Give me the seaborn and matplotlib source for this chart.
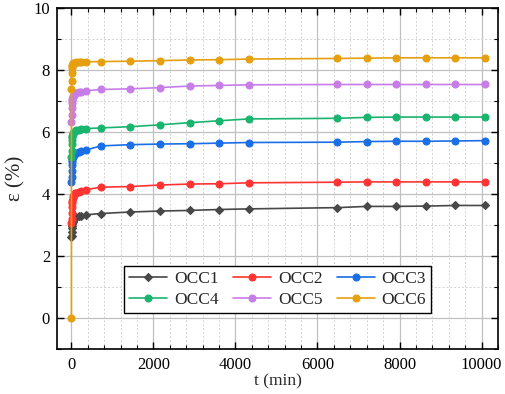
import numpy as np
import pandas as pd
import matplotlib
matplotlib.use("Agg")
import matplotlib.pyplot as plt
import seaborn as sns
from matplotlib.ticker import MultipleLocator

# ---- data ----
early_t = [1, 2, 5, 10, 15, 20, 30, 45, 60, 90, 120, 180, 240, 360]
late_t = [720, 1440, 2160, 2880, 3600, 4320, 6480, 7200, 7920, 8640, 9360, 10080]
t_common = early_t + late_t

occ1 = [2.60, 2.66, 2.78, 2.90, 2.98, 3.04, 3.10, 3.16, 3.20, 3.24, 3.26, 3.28, 3.30, 3.33,
        3.37, 3.42, 3.45, 3.47, 3.50, 3.52, 3.56, 3.60, 3.60, 3.61, 3.63, 3.63]
occ2 = [3.05, 3.20, 3.40, 3.58, 3.70, 3.78, 3.86, 3.93, 3.98, 4.02, 4.04, 4.07, 4.10, 4.14,
        4.22, 4.24, 4.29, 4.32, 4.33, 4.36, 4.38, 4.39, 4.39, 4.39, 4.39, 4.39]
occ3 = [4.40, 4.55, 4.75, 4.92, 5.03, 5.10, 5.18, 5.23, 5.26, 5.29, 5.31, 5.34, 5.37, 5.42,
        5.55, 5.59, 5.61, 5.62, 5.64, 5.66, 5.67, 5.69, 5.70, 5.70, 5.71, 5.72]
occ4 = [5.20, 5.40, 5.60, 5.75, 5.83, 5.88, 5.93, 5.97, 6.00, 6.03, 6.05, 6.07, 6.09, 6.11,
        6.13, 6.17, 6.23, 6.30, 6.36, 6.42, 6.44, 6.47, 6.48, 6.48, 6.48, 6.48]
occ5 = [6.33, 6.55, 6.78, 6.92, 7.00, 7.06, 7.12, 7.17, 7.20, 7.24, 7.26, 7.28, 7.30, 7.33,
        7.37, 7.39, 7.43, 7.48, 7.50, 7.52, 7.53, 7.53, 7.53, 7.53, 7.53, 7.53]
t_occ6 = [0] + t_common
occ6 = [0.0, 7.40, 7.65, 7.90, 8.05, 8.12, 8.16, 8.19, 8.21, 8.22, 8.23, 8.24, 8.25, 8.25, 8.26,
        8.27, 8.28, 8.30, 8.32, 8.33, 8.35, 8.37, 8.38, 8.39, 8.39, 8.39, 8.39]

names = ["OCC1", "OCC2", "OCC3", "OCC4", "OCC5", "OCC6"]
series = [(t_common, occ1), (t_common, occ2), (t_common, occ3),
          (t_common, occ4), (t_common, occ5), (t_occ6, occ6)]
colors = ["#484848", "#ff3333", "#1a6ee6", "#19b46e", "#c77de8", "#e6a00f"]
markers = ["D", "o", "o", "o", "o", "o"]

# ---- style ----
sns.set_style("ticks")
plt.rcParams["font.family"] = ["Liberation Serif", "DejaVu Serif"]

fig = plt.figure(figsize=(5.05, 3.94), dpi=100)
ax = fig.add_axes([0.113, 0.114, 0.873, 0.866])

for name, (tt, yy), c, m in zip(names, series, colors, markers):
    df = pd.DataFrame({"t": tt, "eps": yy})
    sns.lineplot(data=df, x="t", y="eps", ax=ax, color=c, marker=m,
                 markersize=5 if m == "o" else 4.5, markeredgecolor=c,
                 markeredgewidth=0.8, linewidth=1.2, estimator=None,
                 sort=False, label=name, zorder=3)

ax.set_xlim(-350, 10400)
ax.set_ylim(-1, 10)
ax.xaxis.set_major_locator(MultipleLocator(2000))
ax.xaxis.set_minor_locator(MultipleLocator(400))
ax.yaxis.set_major_locator(MultipleLocator(2))
ax.yaxis.set_minor_locator(MultipleLocator(1))

ax.set_axisbelow(True)
ax.grid(which="major", color="#c0c0c0", linewidth=0.9, linestyle="-")
ax.grid(which="minor", color="#d2d2d2", linewidth=0.7, linestyle=(0, (2, 2)))

ax.tick_params(which="both", direction="in", top=True, right=True,
               labelsize=12, colors="black")
ax.tick_params(which="major", length=5, width=1.0)
ax.tick_params(axis="x", which="major", pad=6)
ax.tick_params(axis="y", which="major", pad=5)
ax.tick_params(which="minor", length=3, width=0.8)
for s in ax.spines.values():
    s.set_color("black")
    s.set_linewidth(1.2)

ax.set_xlabel("t (min)", fontsize=12.5, labelpad=0)
ax.set_ylabel("ε (%)", fontsize=15, labelpad=6)

h, l = ax.get_legend_handles_labels()
order = [0, 3, 1, 4, 2, 5]
leg = ax.legend([h[i] for i in order], [l[i] for i in order], ncol=3,
                loc="lower left", bbox_to_anchor=(0.152, 0.106),
                fontsize=12.5, frameon=True, fancybox=False, framealpha=1,
                edgecolor="black", handlelength=2.2, handletextpad=0.4,
                columnspacing=0.8, borderpad=0.3, labelspacing=0.25,
                borderaxespad=0)
leg.get_frame().set_linewidth(1.0)

fig.savefig("out.png", dpi=100)
